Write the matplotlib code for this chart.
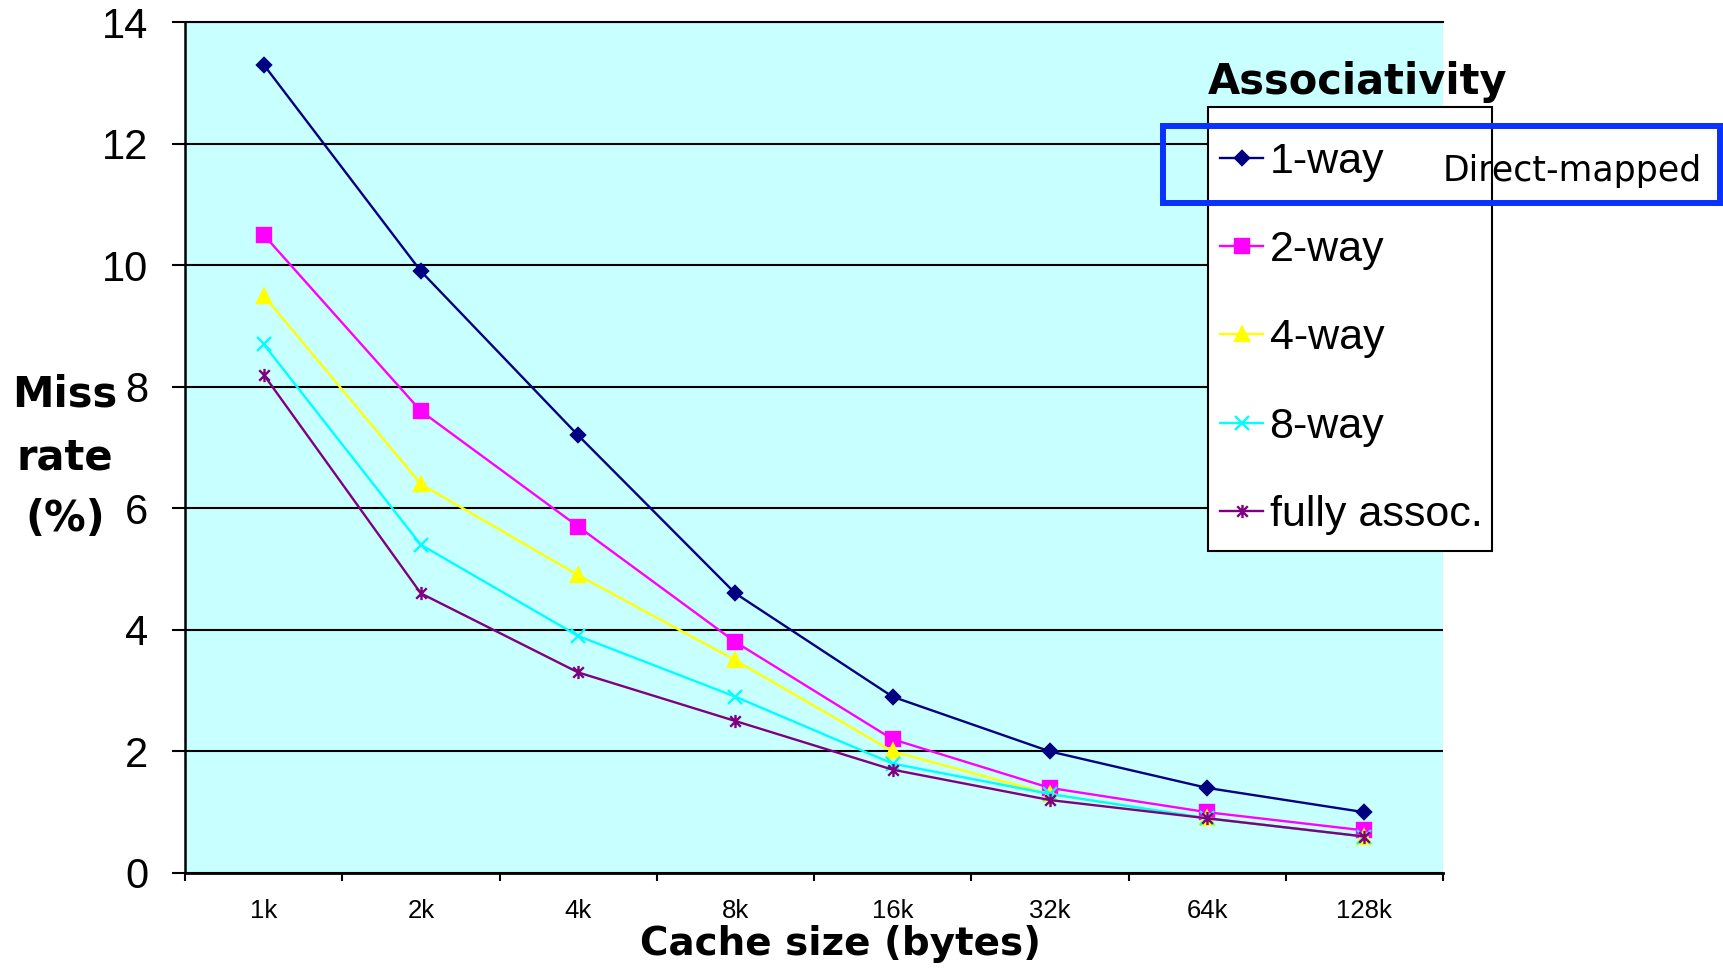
import matplotlib
matplotlib.use('Agg')
import matplotlib.pyplot as plt
from matplotlib.patches import Rectangle
from matplotlib.path import Path

plt.rcParams['font.family'] = 'Liberation Sans'

# cache sizes and miss rates (%)
sizes = ['1k', '2k', '4k', '8k', '16k', '32k', '64k', '128k']
one_way = [13.3, 9.9, 7.2, 4.6, 2.9, 2.0, 1.4, 1.0]
two_way = [10.5, 7.6, 5.7, 3.8, 2.2, 1.4, 1.0, 0.7]
four_way = [9.5, 6.4, 4.9, 3.5, 2.0, 1.3, 0.9, 0.6]
eight_way = [8.7, 5.4, 3.9, 2.9, 1.8, 1.3, 0.9, 0.6]
fully_assoc = [8.2, 4.6, 3.3, 2.5, 1.7, 1.2, 0.9, 0.6]
names = ['1-way', '2-way', '4-way', '8-way', 'fully assoc.']

W, H = 1723, 969

def fx(px):
    return px / W

def fy(py):
    return 1 - py / H

# excel style asterisk: an x with a vertical bar
star = Path([(0, -1), (0, 1), (-0.8, -0.8), (0.8, 0.8), (-0.8, 0.8), (0.8, -0.8)],
            [Path.MOVETO, Path.LINETO] * 3)

colors = ['#000080', '#FF00FF', '#FFFF00', '#00FFFF', '#800080']
markers = ['D', 's', '^', 'x', star]
msizes = [7.5, 10, 10.5, 9.5, 9.5]

fig = plt.figure(figsize=(W / 100, H / 100), dpi=100)
ax = fig.add_axes([fx(185), fy(873), fx(1443) - fx(185), fy(22) - fy(873)])
ax.set_facecolor('#C8FFFF')
ax.set_axisbelow(True)

x = list(range(len(sizes)))
series = [one_way, two_way, four_way, eight_way, fully_assoc]
handles = []
for vals, name, col, mk, ms in zip(series, names, colors, markers, msizes):
    ln, = ax.plot(x, vals, color=col, lw=1.7, marker=mk, ms=ms, mfc=col, mec=col,
                  mew=1.7, label=name)
    handles.append(ln)

ax.set_xlim(-0.5, 7.5)
ax.set_ylim(0, 14)
ax.set_yticks(range(0, 15, 2))
ax.grid(axis='y', color='black', lw=1.5)
ax.tick_params(axis='y', direction='out', length=9.5, width=1.5, pad=17, labelsize=30)
ax.set_xticks(x)
ax.set_xticklabels(sizes)
ax.set_xticks([i - 0.5 for i in range(len(sizes) + 1)], minor=True)
ax.tick_params(axis='x', which='major', length=0, pad=19, labelsize=18.5)
ax.tick_params(axis='x', which='minor', direction='out', length=6, width=1.5)
ax.spines['right'].set_visible(False)
ax.spines['top'].set_linewidth(1.5)
ax.spines['left'].set_linewidth(1.8)
ax.spines['bottom'].set_linewidth(2)

# the tick labels are cut off at the bottom in the original
fig.add_artist(Rectangle((0, 0), 1, fy(921), facecolor='white', edgecolor='none', zorder=1))

# legend box, title sits above it
fig.add_artist(Rectangle((fx(1208), fy(550.5)), fx(1492) - fx(1208), fy(106.6) - fy(550.5),
                         facecolor='white', edgecolor='black', lw=1.5, zorder=1))
fig.legend(handles, names, loc='upper left', bbox_to_anchor=(fx(1220), fy(142)),
           bbox_transform=fig.transFigure, frameon=False, borderpad=0, borderaxespad=0,
           prop={'family': 'Liberation Sans', 'size': 31}, handlelength=1.0,
           handletextpad=0.15, labelspacing=1.12)

comic = {'family': 'DejaVu Sans', 'weight': 'bold'}
fig.text(fx(1208), fy(94), 'Associativity', ha='left', va='baseline', fontsize=30, **comic)
fig.text(fx(1443), fy(181), 'Direct-mapped', ha='left', va='baseline', fontsize=25,
         family='DejaVu Sans')
fig.add_artist(Rectangle((fx(1163), fy(203)), fx(1720) - fx(1163), fy(126) - fy(203),
                         fill=False, edgecolor='#0A32FF', lw=4.3, zorder=4))

fig.text(fx(65), fy(457), 'Miss\nrate\n(%)', ha='center', va='center', multialignment='center',
         fontsize=30, linespacing=1.62, **comic)
fig.text(fx(841), fy(955), 'Cache size (bytes)', ha='center', va='baseline', fontsize=28, **comic)

fig.savefig('out.png', dpi=100)
